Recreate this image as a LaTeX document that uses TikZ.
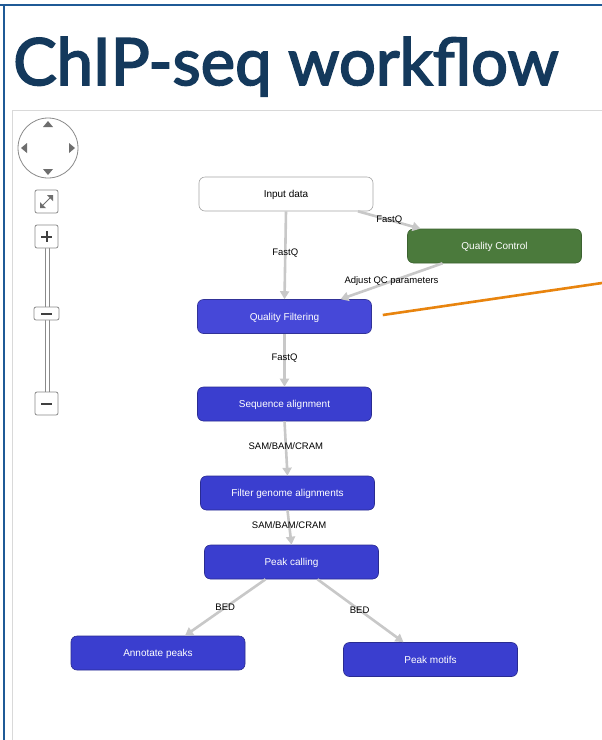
\documentclass[tikz,border=0pt]{standalone}
\usepackage{fontspec}
\setmainfont{Liberation Sans}
\newfontfamily\titlefont[FakeBold=2.6]{Lato}
\usetikzlibrary{arrows.meta}
\definecolor{navy}{HTML}{14395C}
\definecolor{frameblue}{HTML}{1F5A96}
\definecolor{qcgreen}{HTML}{4B7A3C}
\definecolor{stepblue}{HTML}{3A3ECF}
\definecolor{qfblue}{HTML}{4648D8}
\definecolor{edgegray}{HTML}{C8C8C8}
\definecolor{ctrlgray}{HTML}{8A8A8A}
\definecolor{orangeline}{HTML}{E8840E}
\tikzset{
  wf/.style={rounded corners=6pt, minimum width=174pt, minimum height=34pt, inner sep=0pt,
    text height=7.5pt, text depth=0pt,
    font=\fontsize{10}{12}\selectfont, text=white, draw=stepblue!70!black, line width=0.6pt},
  inputbox/.style={wf, fill=white, draw=gray!70, text=black},
  qcbox/.style={wf, fill=qcgreen, draw=qcgreen!80!black},
  qfbox/.style={wf, fill=qfblue, draw=qfblue!70!black},
  stepbox/.style={wf, fill=stepblue},
  edge/.style={draw=edgegray, line width=2.6pt, -{Triangle[length=8pt,width=9pt]}},
  elabel/.style={font=\fontsize{9.5}{11}\selectfont, text=black, inner sep=1pt},
  ctrl/.style={draw=ctrlgray, line width=0.8pt, rounded corners=2pt, fill=white},
}
\begin{document}
\begin{tikzpicture}[x=1pt, y=-1pt]
\useasboundingbox (0,0) rectangle (602,740);
\fill[white] (0,0) rectangle (602,740);
% frame
\draw[frameblue, line width=2pt] (0,5) -- (602,5);
\draw[frameblue, line width=2pt] (3.5,5) -- (3.5,740);
% title
\node[anchor=base west, inner sep=0pt, text=navy] (title) at (13,85)
  {\resizebox{545pt}{!}{\titlefont ChIP-seq workflow}};
% panel
\draw[gray!30, line width=1pt] (12,740) -- (12,110) -- (602,110);
% navigation controls
\draw[ctrlgray, line width=0.8pt] (48,148) circle (30);
\fill[ctrlgray!80!black] (48,121) -- (43,127) -- (53,127) -- cycle;
\fill[ctrlgray!80!black] (48,175) -- (43,169) -- (53,169) -- cycle;
\fill[ctrlgray!80!black] (21,148) -- (27,143) -- (27,153) -- cycle;
\fill[ctrlgray!80!black] (75,148) -- (69,143) -- (69,153) -- cycle;
\draw[ctrl] (35,190) rectangle (58,213);
\draw[ctrlgray!80!black, line width=1pt] (42.5,205.5) -- (50.5,197.5);
\fill[ctrlgray!80!black] (40,208) -- (40,202) -- (46,208) -- cycle;
\fill[ctrlgray!80!black] (53,195) -- (53,201) -- (47,195) -- cycle;
\draw[ctrlgray, line width=0.7pt] (45.5,248) -- (45.5,392);
\draw[ctrlgray, line width=0.7pt] (49.5,248) -- (49.5,392);
\draw[ctrl] (35,225) rectangle (58,248);
\draw[black!75, line width=2pt] (41,236.5) -- (52,236.5) (46.5,231) -- (46.5,242);
\draw[ctrl] (34,307) rectangle (59,320);
\draw[black!75, line width=2pt] (41,313.5) -- (52,313.5);
\draw[ctrl] (35,392) rectangle (58,415);
\draw[black!75, line width=2pt] (41,403.5) -- (52,403.5);
% nodes
\node[inputbox] (input) at (286,194) {Input data};
\node[qcbox] (qc) at (494.5,246) {Quality Control};
\node[qfbox] (qf) at (284.5,316.5) {Quality Filtering};
\node[stepbox] (sa) at (284.5,404) {Sequence alignment};
\node[stepbox] (fga) at (287.5,493) {Filter genome alignments};
\node[stepbox] (pc) at (291.5,562) {Peak calling};
\node[stepbox] (ap) at (158,653) {Annotate peaks};
\node[stepbox] (pm) at (430.5,659.5) {Peak motifs};
% edges
\draw[edge] (input.south) -- (qf.north) node[elabel, pos=0.48] {FastQ};
\draw[edge] ([xshift=72pt]input.south) -- ([xshift=-74pt]qc.north) node[elabel, pos=0.5] {FastQ};
\draw[edge] ([xshift=-52pt]qc.south) -- ([xshift=56pt]qf.north) node[elabel, pos=0.5] {Adjust QC parameters};
\draw[edge] (qf.south) -- (sa.north) node[elabel, pos=0.45] {FastQ};
\draw[edge] (sa.south) -- (fga.north) node[elabel, pos=0.45] {SAM/BAM/CRAM};
\draw[edge] (fga.south) -- (pc.north) node[elabel, pos=0.42] {SAM/BAM/CRAM};
\draw[edge] ([xshift=-26pt]pc.south) -- ([xshift=27pt]ap.north) node[elabel, pos=0.5] {BED};
\draw[edge] ([xshift=26pt]pc.south) -- ([xshift=-27pt]pm.north) node[elabel, pos=0.49] {BED};
% orange pointer
\coordinate (pend) at (602,283);
\draw[orangeline, line width=2.6pt] ([xshift=11pt,yshift=1.5pt]qf.east) -- (pend);
\end{tikzpicture}
\end{document}
